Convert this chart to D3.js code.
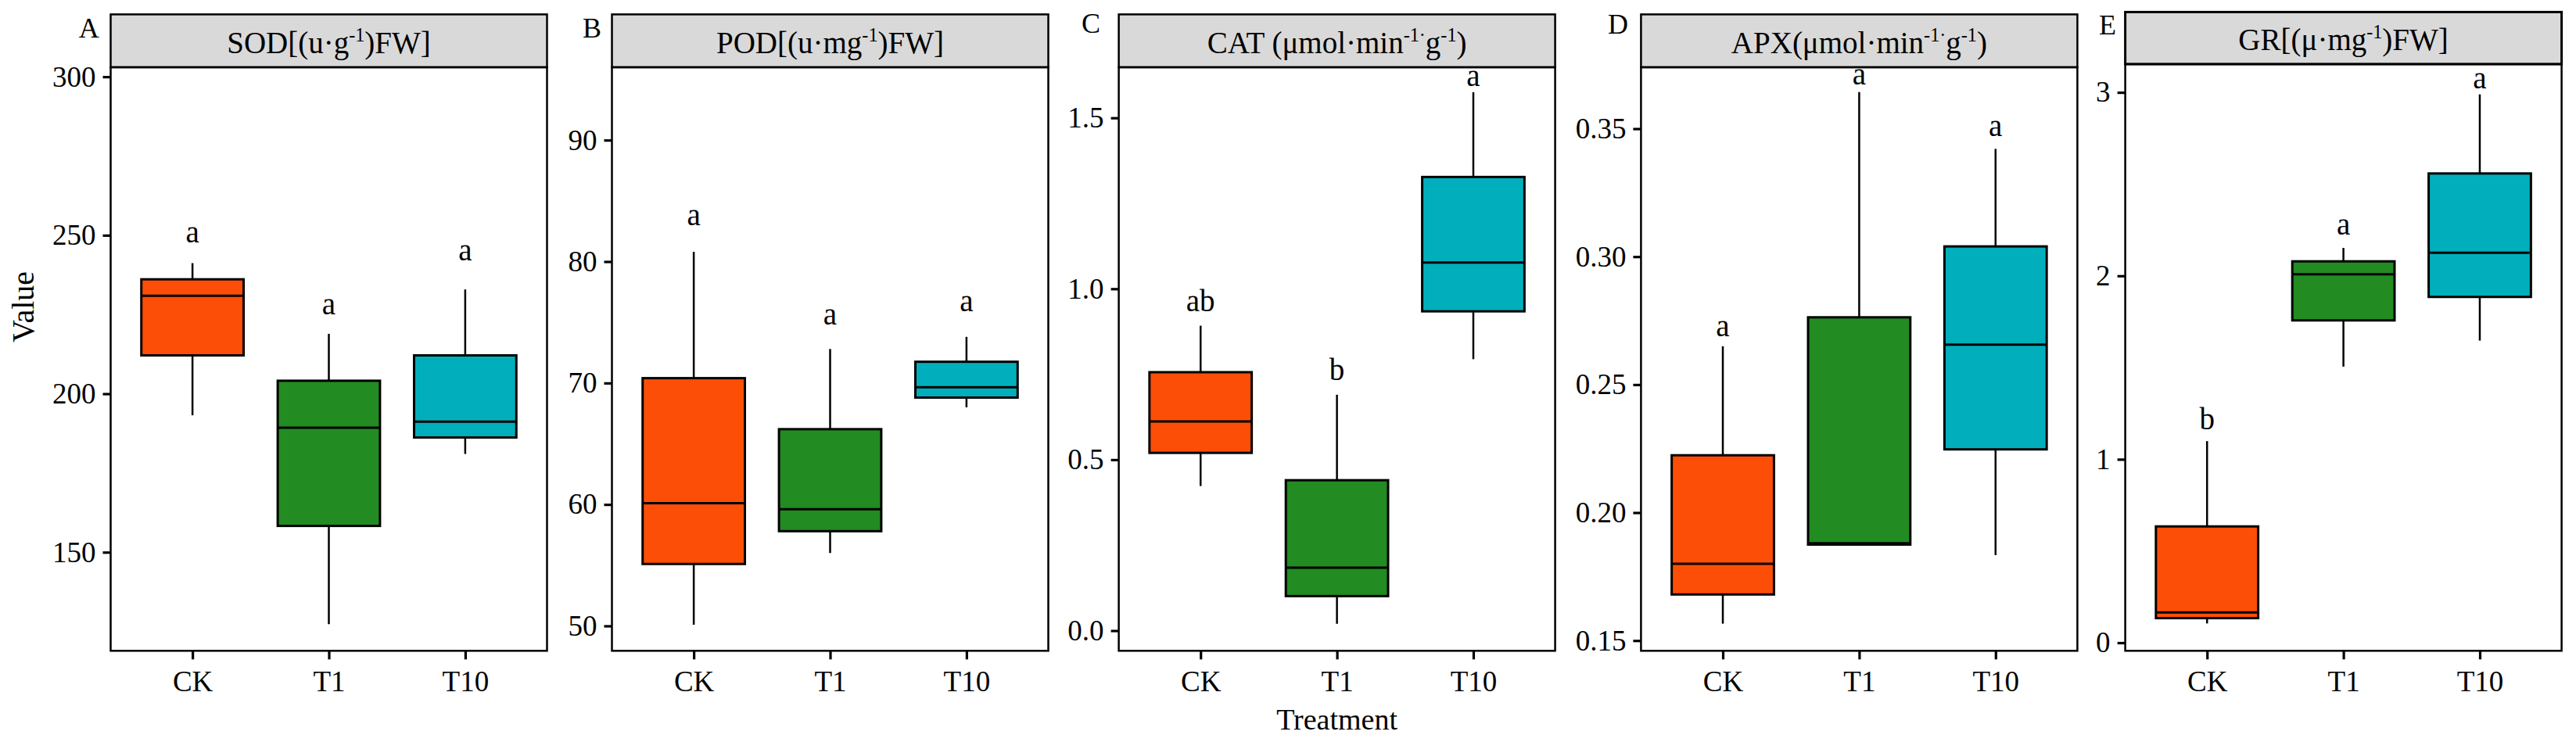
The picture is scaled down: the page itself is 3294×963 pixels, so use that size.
<!DOCTYPE html>
<html>
<head>
<meta charset="utf-8">
<script src="https://cdn.jsdelivr.net/npm/d3@7"></script>
<style>
  html, body { margin: 0; padding: 0; background: #fff; }
  text { font-family: "Liberation Serif", "Times New Roman", serif; fill: #000; }
</style>
</head>
<body>
<div id="chart"></div>
<script>
// data

const groups = ["CK", "T1", "T10"];
const groupColors = ["#FC4E07", "#228B22", "#00AFBB"];

const panelTags = ["A", "B", "C", "D", "E"];
const panelTitles = [
    "SOD[(u·g^{-1})FW]",
    "POD[(u·mg^{-1})FW]",
    "CAT (μmol·min^{-1·}g^{-1})",
    "APX(μmol·min^{-1·}g^{-1})",
    "GR[(μ·mg^{-1})FW]"
];

const yTicks = [
    [150, 200, 250, 300],
    [50, 60, 70, 80, 90],
    [0.0, 0.5, 1.0, 1.5],
    [0.15, 0.20, 0.25, 0.30, 0.35],
    [0, 1, 2, 3]
];
const yTickFormats = ["d", "d", ".1f", ".2f", "d"];
const yDomains = [
    [118.9, 303.0],
    [47.95, 96.0],
    [-0.059, 1.648],
    [0.146, 0.374],
    [-0.044, 3.154]
];

// [lower whisker, Q1, median, Q3, upper whisker] for CK, T1, T10
const sodStats = [[193.2, 212.1, 230.9, 236.1, 241.2], [127.3, 158.3, 189.3, 204.1, 218.9], [181.0, 186.2, 191.2, 212.1, 232.9]];
const podStats = [[50.1, 55.1, 60.1, 70.4, 80.8], [56.0, 57.8, 59.6, 66.2, 72.8], [68.0, 68.8, 69.65, 71.75, 73.8]];
const catStats = [[0.423, 0.520, 0.612, 0.756, 0.892], [0.020, 0.101, 0.184, 0.440, 0.690], [0.794, 0.934, 1.077, 1.327, 1.575]];
const apxStats = [[0.1566, 0.168, 0.180, 0.2224, 0.265], [0.1872, 0.1875, 0.1880, 0.2763, 0.3643], [0.1834, 0.2247, 0.2656, 0.304, 0.3421]];
const grStats = [[0.105, 0.134, 0.165, 0.634, 1.099], [1.505, 1.757, 2.008, 2.079, 2.152], [1.647, 1.885, 2.126, 2.558, 2.989]];

// significance letters and the value they sit at
const sodLetters = ["a", "a", "a"], sodLetterY = [247.7, 225.0, 242.0];
const podLetters = ["a", "a", "a"], podLetterY = [83.0, 74.8, 75.9];
const catLetters = ["ab", "b", "a"], catLetterY = [0.934, 0.732, 1.594];
const apxLetters = ["a", "a", "a"], apxLetterY = [0.2688, 0.3674, 0.3472];
const grLetters = ["b", "a", "a"], grLetterY = [1.162, 2.225, 3.023];

const allStats = [sodStats, podStats, catStats, apxStats, grStats];
const allLetters = [sodLetters, podLetters, catLetters, apxLetters, grLetters];
const allLetterY = [sodLetterY, podLetterY, catLetterY, apxLetterY, grLetterY];

// mise en page

const width = 3294, height = 963;
const panelLeft = [141.5, 782.5, 1430.6, 2098.4, 2717.6],
    panelWidth = 558,
    panelBottom = 832.3,
    panelTop = [86, 86, 86, 86, 82],
    stripTop = [18.4, 18.4, 18.4, 18.4, 15.4],
    tagPos = [[113.7, 48], [757, 48], [1395, 42], [2069, 43], [2695, 44]];

const svg = d3.select("#chart").append("svg")
    .attr("width", width)
    .attr("height", height);

svg.append("rect").attr("width", width).attr("height", height).attr("fill", "#fff");

// writes "x^{sup}y" as tspans
function richText(sel, str, size) {
    const parts = str.split(/(\^\{[^}]*\})/).filter(s => s.length);
    const supSize = size * 0.62, shift = size * 0.38;
    let raised = false;
    parts.forEach(p => {
        if (p.startsWith("^{")) {
            sel.append("tspan")
                .attr("dy", -shift)
                .style("font-size", supSize + "px")
                .text(p.slice(2, -1));
            raised = true;
        } else {
            sel.append("tspan")
                .attr("dy", raised ? shift : 0)
                .text(p);
            raised = false;
        }
    });
}

panelTags.forEach((tag, i) => {
    const left = panelLeft[i], right = left + panelWidth;
    const g = svg.append("g");

    const x = d3.scalePoint().domain(groups).range([left, right]).padding(0.6);
    const y = d3.scaleLinear().domain(yDomains[i]).range([panelBottom, panelTop[i]]);
    const boxW = x.step() * 0.75;

    // strip
    g.append("rect")
        .attr("x", left).attr("y", stripTop[i])
        .attr("width", panelWidth).attr("height", panelTop[i] - stripTop[i])
        .attr("fill", "#D9D9D9")
        .attr("stroke", "#000")
        .attr("stroke-width", i === 4 ? 3 : 2.5);

    const title = g.append("text")
        .attr("x", left + panelWidth / 2)
        .attr("y", panelTop[i] - 18)
        .attr("text-anchor", "middle")
        .style("font-size", "39px");
    richText(title, panelTitles[i], 39);

    // panel letter
    g.append("text")
        .attr("x", tagPos[i][0]).attr("y", tagPos[i][1])
        .attr("text-anchor", "middle")
        .style("font-size", "36px")
        .text(tag);

    // boxes
    const stats = allStats[i];
    const boxes = g.selectAll(".box").data(groups).enter().append("g").attr("class", "box");

    boxes.append("line")
        .attr("x1", d => x(d)).attr("x2", d => x(d))
        .attr("y1", (d, j) => y(stats[j][0])).attr("y2", (d, j) => y(stats[j][1]))
        .attr("stroke", "#000").attr("stroke-width", 2.5);
    boxes.append("line")
        .attr("x1", d => x(d)).attr("x2", d => x(d))
        .attr("y1", (d, j) => y(stats[j][3])).attr("y2", (d, j) => y(stats[j][4]))
        .attr("stroke", "#000").attr("stroke-width", 2.5);
    boxes.append("rect")
        .attr("x", d => x(d) - boxW / 2)
        .attr("width", boxW)
        .attr("y", (d, j) => y(stats[j][3]))
        .attr("height", (d, j) => y(stats[j][1]) - y(stats[j][3]))
        .attr("fill", (d, j) => groupColors[j])
        .attr("stroke", "#000").attr("stroke-width", 3);
    boxes.append("line")
        .attr("x1", d => x(d) - boxW / 2).attr("x2", d => x(d) + boxW / 2)
        .attr("y1", (d, j) => y(stats[j][2])).attr("y2", (d, j) => y(stats[j][2]))
        .attr("stroke", "#000").attr("stroke-width", 3);

    // letters
    boxes.append("text")
        .attr("x", d => x(d))
        .attr("y", (d, j) => y(allLetterY[i][j]))
        .attr("text-anchor", "middle")
        .style("font-size", "39px")
        .text((d, j) => allLetters[i][j]);

    // panel border
    g.append("rect")
        .attr("x", left).attr("y", panelTop[i])
        .attr("width", panelWidth).attr("height", panelBottom - panelTop[i])
        .attr("fill", "none")
        .attr("stroke", "#000")
        .attr("stroke-width", 2.5);

    // axes
    const yAxis = g.append("g")
        .attr("transform", "translate(" + left + ",0)")
        .call(d3.axisLeft(y).tickValues(yTicks[i]).tickFormat(d3.format(yTickFormats[i])).tickSize(10).tickPadding(9));
    const xAxis = g.append("g")
        .attr("transform", "translate(0," + panelBottom + ")")
        .call(d3.axisBottom(x).tickSize(11).tickPadding(14));

    [yAxis, xAxis].forEach(ax => {
        ax.select(".domain").remove();
        ax.selectAll(".tick line").attr("stroke", "#000").attr("stroke-width", 3.2);
        ax.selectAll(".tick text")
            .style("font-family", "'Liberation Serif', serif")
            .style("font-size", "37px")
            .attr("fill", "#000");
    });
});

// axis titles
svg.append("text")
    .attr("transform", "translate(43,392.5) rotate(-90)")
    .attr("text-anchor", "middle")
    .style("font-size", "40px")
    .text("Value");

svg.append("text")
    .attr("x", panelLeft[2] + panelWidth / 2)
    .attr("y", 933)
    .attr("text-anchor", "middle")
    .style("font-size", "38px")
    .text("Treatment");
</script>
</body>
</html>
